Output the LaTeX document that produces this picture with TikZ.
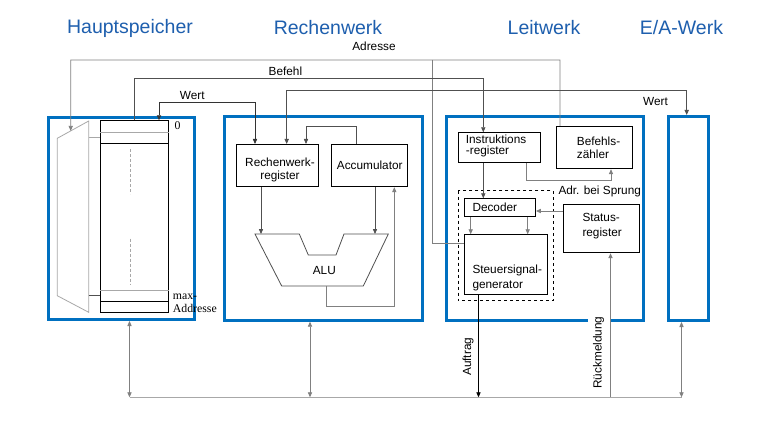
\documentclass[tikz,border=0pt]{standalone}
\usepackage{fontspec}
\setmainfont{Liberation Sans}
\newfontfamily\serifa{Liberation Serif}
\usetikzlibrary{arrows.meta,calc}
\definecolor{eblue}{HTML}{0070C0}
\definecolor{tblue}{HTML}{1E5FAE}
\definecolor{lgray}{HTML}{A8A8A8}
\definecolor{mgray}{HTML}{808080}
\definecolor{dgray}{HTML}{505050}
\tikzset{
  unitbox/.style={draw=eblue, line width=3pt, inner sep=0pt, anchor=north west},
  regbox/.style={draw=black, line width=0.9pt, inner sep=0pt, anchor=north west},
  title/.style={text=tblue, font=\fontsize{19.5}{20}\selectfont, inner sep=0pt},
  lbl/.style={font=\fontsize{11.8}{13}\selectfont, inner sep=0pt},
  slbl/.style={font=\serifa\fontsize{11.8}{12.6}\selectfont, inner sep=0pt},
  tip/.style={-{Triangle[length=5pt,width=4.2pt]}},
  dtip/.style={{Triangle[length=5pt,width=4.2pt]}-{Triangle[length=5pt,width=4.2pt]}},
  wire/.style={line width=0.8pt},
}
\begin{document}
\begin{tikzpicture}[x=1pt,y=-1pt]
\useasboundingbox (0,0) rectangle (763,433);
\fill[white] (0,0) rectangle (763,433);

% titles
\node[title] (t1) at (130,28) {Hauptspeicher};
\node[title] (t2) at (328,28) {Rechenwerk};
\node[title] (t3) at (544,28) {Leitwerk};
\node[title] (t4) at (681.5,28) {E/A-Werk};

% unit boxes
\node[unitbox, minimum width=146.6, minimum height=202.3] (hs) at (46.7,115.7) {};
\node[unitbox, minimum width=197.4, minimum height=203.7] (rw) at (223.3,115) {};
\node[unitbox, minimum width=196.7, minimum height=204] (lw) at (445.3,115) {};
\node[unitbox, minimum width=39.4, minimum height=204] (ea) at (667.3,115) {};

% memory
\node[regbox, minimum width=67.4, minimum height=192] (mem) at (100.3,120.3) {};
\draw[lgray, wire] (mem.west |- 0,132) -- (mem.east |- 0,132);
\draw[black, wire] (mem.west |- 0,143.3) -- (mem.east |- 0,143.3);
\draw[lgray, wire] (mem.west |- 0,290) -- (mem.east |- 0,290);
\draw[black, wire] (mem.west |- 0,301) -- (mem.east |- 0,301);
\draw[lgray, wire, dash pattern=on 3pt off 2pt] (130.7,149) -- (130.7,194);
\draw[lgray, wire, dash pattern=on 3pt off 2pt] (130.7,238.7) -- (130.7,284.3);
\coordinate (m1) at (57.3,138.3);
\coordinate (m2) at (88.7,121);
\coordinate (m3) at (88.7,312.3);
\coordinate (m4) at (57.3,295.7);
\draw[lgray, wire] (m1) -- (m2) -- (m3) -- (m4) -- cycle;
\draw[lgray, wire] (m2 |- 0,137.7) -- (mem.west |- 0,137.7);
\draw[dgray, wire] (m2 |- 0,295) -- (mem.west |- 0,295);
\coordinate (mA) at ($(m1)!0.427!(m2)$);
\node[slbl] (zero) at (177.5,126) {0};
\node[slbl, anchor=west, align=left] (maxa) at (172.7,303) {max-\\Addresse};

% Rechenwerk
\node[regbox, minimum width=82.6, minimum height=42.3] (rwr) at (235.7,144) {};
\node[lbl, align=center] (rwrt) at (280,169.5) {Rechenwerk-\\register};
\node[regbox, minimum width=76, minimum height=42.3] (acc) at (331.3,144) {};
\node[lbl] (acct) at (acc.center) {Accumulator};
\coordinate (a1) at (255,234);
\coordinate (a2) at (299.3,234);
\coordinate (a3) at (308.3,255);
\coordinate (a4) at (336,255);
\coordinate (a5) at (344,234);
\coordinate (a6) at (388.3,234);
\coordinate (a7) at (363.3,286);
\coordinate (a8) at (281.7,286);
\draw[dgray, wire] (a1) -- (a2) -- (a3) -- (a4) -- (a5) -- (a6) -- (a7) -- (a8) -- cycle;
\node[lbl] (alu) at (324.3,270) {ALU};
\coordinate (xL) at (261,234);
\coordinate (xR) at (375,234);
\draw[dgray, wire, tip] (rwr.south -| xL) -- (xL);
\draw[dgray, wire, tip] (acc.south -| xR) -- (xR);
\coordinate (ao1) at (326,306);
\coordinate (ao2) at (394.3,306);
\draw[mgray, wire, tip] (ao1 |- a8) -- (ao1) -- (ao2) -- (acc.south -| ao2);
\coordinate (cAc1) at (356,126);
\coordinate (cAc2) at (306,126);
\draw[dgray, wire, tip] (acc.north -| cAc1) -- (cAc1) -- (cAc2) -- (rwr.north -| cAc2);

% Leitwerk
\node[regbox, minimum width=81.7, minimum height=29.7] (ir) at (458.3,132.3) {};
\node[lbl, anchor=west, align=left, font=\fontsize{11.8}{11.7}\selectfont] (irt) at (465.7,146) {Instruktions\\-register};
\node[regbox, minimum width=76.3, minimum height=42.3] (bz) at (556,126) {};
\node[lbl, anchor=west, align=left, font=\fontsize{11.8}{12.6}\selectfont] (bzt) at (576.7,148) {Befehls-\\zähler};
\draw[black, line width=0.8pt, dashed] (458.3,190.5) rectangle (553.3,300.5);
\node[regbox, minimum width=70.7, minimum height=17.7] (dec) at (464.3,198.3) {};
\node[lbl, anchor=west] (dect) at (472.3,207.2) {Decoder};
\node[regbox, minimum width=83, minimum height=60] (ssg) at (464.3,234.3) {};
\node[lbl, anchor=west, align=left, font=\fontsize{11.8}{15.7}\selectfont] (ssgt) at (472.3,277.8) {Steuersignal-\\generator};
\node[regbox, minimum width=76.2, minimum height=48] (st) at (562.5,204.3) {};
\node[lbl, anchor=west, align=left, font=\fontsize{11.8}{15}\selectfont] (stt) at (582.3,225.8) {Status-\\register};
\node[lbl, anchor=west] (sprung) at (558.3,191.7) {Adr. bei Sprung};

\coordinate (cBef2) at (483.3,78.3);
\draw[dgray, wire, tip] (ir.south -| cBef2) -- (dec.north -| cBef2);
\coordinate (cIB1) at (526.7,180);
\coordinate (cIB2) at (611,180);
\draw[mgray, wire, tip] (ir.south -| cIB1) -- (cIB1) -- (cIB2) -- (bz.south -| cIB2);
\coordinate (yDS) at (0,211);
\draw[mgray, wire, tip] (st.west |- yDS) -- (dec.east |- yDS);
\coordinate (xD1) at (470.7,0);
\coordinate (xD2) at (527.7,0);
\draw[mgray, wire, tip] (dec.south -| xD1) -- (ssg.north -| xD1);
\draw[mgray, wire, tip] (dec.south -| xD2) -- (ssg.north -| xD2);

% top buses
\coordinate (cAdr) at (70.7,60);
\coordinate (cBZ) at (560,60);
\draw[mgray, wire, tip] (bz.north -| cBZ) -- (cBZ) -- (cAdr) -- (mA);
\coordinate (cAdrB) at (432.5,60);
\coordinate (yS) at (0,243.3);
\draw[mgray, wire] (cAdrB) |- (ssg.west |- yS);
\node[lbl] (adr) at (374,46.7) {Adresse};

\coordinate (cBef) at (134.3,78.3);
\draw[dgray, wire, tip] (mem.north -| cBef) -- (cBef) -- (cBef2) -- (ir.north -| cBef2);
\node[lbl] (bef) at (285.4,71.7) {Befehl};

\coordinate (cW1a) at (159,102.7);
\coordinate (cW1b) at (255,102.7);
\draw[black!80, wire, dtip] (rwr.north -| cW1b) -- (cW1b) -- (cW1a) -- (mem.north -| cW1a);
\node[lbl] (w1) at (192.3,95.5) {Wert};

\coordinate (cW2a) at (286.7,90.7);
\coordinate (cW2b) at (686.7,90.7);
\draw[dgray, wire, dtip] (rwr.north -| cW2a) -- (cW2a) -- (cW2b) -- (ea.north -| cW2b);
\node[lbl] (w2) at (655.5,101.7) {Wert};

% system bus
\coordinate (busL) at (129.5,397.3);
\coordinate (busR) at (681.5,397.3);
\draw[lgray, line width=1pt] (busL) -- (busR);
\draw[mgray, wire, dtip] (hs.south -| busL) -- (busL);
\draw[mgray, wire, dtip] (rw.south -| 310,0) -- (busL -| 310,0);
\draw[mgray, wire, dtip] (ea.south -| busR) -- (busR);
\coordinate (xAuf) at (478.5,397.3);
\draw[black, wire, tip] (ssg.south -| xAuf) -- (xAuf);
\node[lbl, rotate=90] (auf) at (468,356.7) {Auftrag};
\node[lbl, rotate=90, fill=white, inner ysep=5.5pt, inner xsep=2pt] (rm) at (598.5,352.5) {Rückmeldung};
\coordinate (xRm) at (610.5,397.3);
\draw[mgray, wire, tip] (xRm) -- (st.south -| xRm);
\end{tikzpicture}
\end{document}
